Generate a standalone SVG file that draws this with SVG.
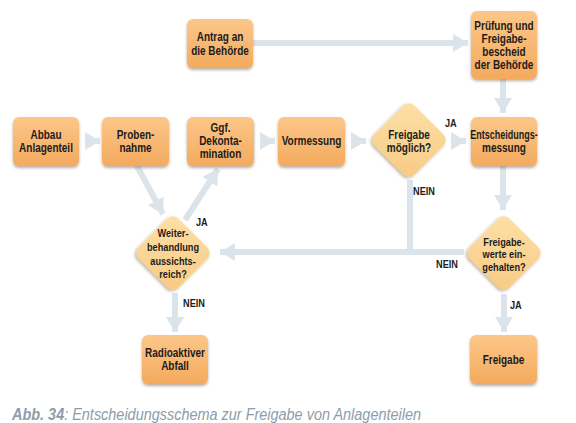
<svg xmlns="http://www.w3.org/2000/svg" width="576" height="423" viewBox="0 0 576 423">
<defs>
<linearGradient id="gBox" x1="0" y1="0" x2="0" y2="1">
<stop offset="0" stop-color="#fcc789"/>
<stop offset="1" stop-color="#f4aa5e"/>
</linearGradient>
<linearGradient id="gDia" x1="0" y1="0" x2="1" y2="1">
<stop offset="0" stop-color="#fde0a6"/>
<stop offset="1" stop-color="#f8ca84"/>
</linearGradient>
<filter id="sh" x="-20%" y="-20%" width="140%" height="150%">
<feDropShadow dx="0" dy="2" stdDeviation="1.5" flood-color="#6b4a20" flood-opacity="0.45"/>
</filter>
<marker id="ah" markerUnits="userSpaceOnUse" markerWidth="16" markerHeight="18" refX="15" refY="9" orient="auto">
<path d="M0,0 L15,9 L0,18 z" fill="#dbe4eb"/>
</marker>
<style>
.box{fill:url(#gBox);filter:url(#sh)}
.dia{fill:url(#gDia);filter:url(#sh)}
.t{font-family:"Liberation Sans",Arial,sans-serif;font-weight:bold;font-size:12.5px;fill:#1c1c1c;text-anchor:middle}
.td{font-size:11.5px}
.lb{font-family:"Liberation Sans",Arial,sans-serif;font-weight:bold;font-size:11.5px;fill:#1c1c1c}
.c{stroke:#dbe4eb;stroke-width:6;fill:none}
.cap{font-family:"Liberation Sans",Arial,sans-serif;font-style:italic;font-size:16px;fill:#8d9cab}
</style>
</defs>
<g id="connectors">
<path class="c" d="M253,43 H468" marker-end="url(#ah)"/>
<path class="c" d="M503,79 V113" marker-end="url(#ah)"/>
<path class="c" d="M86,141 H100" marker-end="url(#ah)"/>
<path class="c" d="M260,141 H275" marker-end="url(#ah)"/>
<path class="c" d="M352,141 H366" marker-end="url(#ah)"/>
<path class="c" d="M451,141 H466" marker-end="url(#ah)"/>
<path class="c" d="M503,166 V210" marker-end="url(#ah)"/>
<path class="c" d="M410,180 V252"/>
<path class="c" d="M464,252 H220" marker-end="url(#ah)"/>
<path class="c" d="M504,294 V332" marker-end="url(#ah)"/>
<path class="c" d="M175,293 V332" marker-end="url(#ah)"/>
<path class="c" d="M137,166 L163,214" marker-end="url(#ah)"/>
<path class="c" d="M185,220 L218,169" marker-end="url(#ah)"/>
</g>
<g id="n-antrag"><rect class="box" x="187" y="19" width="66" height="49" rx="6"/>
<text class="t" transform="translate(220,41) scale(0.8,1)">Antrag an</text><text class="t" transform="translate(220,55) scale(0.8,1)">die Behörde</text></g>
<g id="n-pruefung"><rect class="box" x="471" y="11" width="66" height="68" rx="6"/>
<text class="t" transform="translate(504,30) scale(0.8,1)">Prüfung und</text><text class="t" transform="translate(504,43) scale(0.8,1)">Freigabe-</text><text class="t" transform="translate(504,56) scale(0.8,1)">bescheid</text><text class="t" transform="translate(504,69) scale(0.8,1)">der Behörde</text></g>
<g id="n-abbau"><rect class="box" x="13" y="117" width="66" height="49" rx="6"/>
<text class="t" transform="translate(46,139) scale(0.8,1)">Abbau</text><text class="t" transform="translate(46,152) scale(0.8,1)">Anlagenteil</text></g>
<g id="n-probe"><rect class="box" x="102" y="117" width="67" height="49" rx="6"/>
<text class="t" transform="translate(135.5,139) scale(0.8,1)">Proben-</text><text class="t" transform="translate(135.5,152) scale(0.8,1)">nahme</text></g>
<g id="n-dekon"><rect class="box" x="187" y="117" width="67" height="49" rx="6"/>
<text class="t" transform="translate(220.5,132) scale(0.8,1)">Ggf.</text><text class="t" transform="translate(220.5,145) scale(0.8,1)">Dekonta-</text><text class="t" transform="translate(220.5,158) scale(0.8,1)">mination</text></g>
<g id="n-vormessung"><rect class="box" x="278" y="117" width="67" height="49" rx="6"/>
<text class="t" transform="translate(311.5,145) scale(0.8,1)">Vormessung</text></g>
<g id="n-freigabe-moeglich"><rect class="dia" x="380.7" y="111.7" width="56.6" height="56.6" rx="8" transform="rotate(45 409 140)"/>
<text class="t" transform="translate(409,139) scale(0.8,1)">Freigabe</text><text class="t" transform="translate(409,152) scale(0.8,1)">möglich?</text></g>
<g id="n-entscheidung"><rect class="box" x="471" y="117" width="66" height="49" rx="6"/>
<text class="t" transform="translate(504,139) scale(0.72,1)">Entscheidungs-</text><text class="t" transform="translate(504,152) scale(0.8,1)">messung</text></g>
<g id="n-weiter"><rect class="dia" x="144.7" y="224.7" width="56.6" height="56.6" rx="8" transform="rotate(45 173 253)"/>
<text class="t td" transform="translate(173,237) scale(0.8,1)">Weiter-</text><text class="t td" transform="translate(173,251) scale(0.8,1)">behandlung</text><text class="t td" transform="translate(173,265) scale(0.8,1)">aussichts-</text><text class="t td" transform="translate(173,278) scale(0.8,1)">reich?</text></g>
<g id="n-werte"><rect class="dia" x="475.7" y="224.7" width="56.6" height="56.6" rx="8" transform="rotate(45 504 253)"/>
<text class="t td" transform="translate(504,246) scale(0.8,1)">Freigabe-</text><text class="t td" transform="translate(504,258) scale(0.8,1)">werte ein-</text><text class="t td" transform="translate(504,271) scale(0.8,1)">gehalten?</text></g>
<g id="n-radio"><rect class="box" x="142" y="335" width="66" height="49" rx="6"/>
<text class="t" transform="translate(175,357) scale(0.8,1)">Radioaktiver</text><text class="t" transform="translate(175,370) scale(0.8,1)">Abfall</text></g>
<g id="n-freigabe"><rect class="box" x="470" y="335" width="67" height="49" rx="6"/>
<text class="t" transform="translate(503.5,364) scale(0.8,1)">Freigabe</text></g>
<g id="labels">
<text class="lb" transform="translate(445,127) scale(0.8,1)">JA</text>
<text class="lb" transform="translate(413,195) scale(0.8,1)">NEIN</text>
<text class="lb" transform="translate(436,268) scale(0.8,1)">NEIN</text>
<text class="lb" transform="translate(510,309) scale(0.8,1)">JA</text>
<text class="lb" transform="translate(196,226) scale(0.8,1)">JA</text>
<text class="lb" transform="translate(183,307) scale(0.8,1)">NEIN</text>
</g>
<text class="cap" x="12" y="420" textLength="409" lengthAdjust="spacingAndGlyphs"><tspan font-weight="bold">Abb. 34</tspan>:  Entscheidungsschema zur Freigabe von Anlagenteilen</text>
</svg>
